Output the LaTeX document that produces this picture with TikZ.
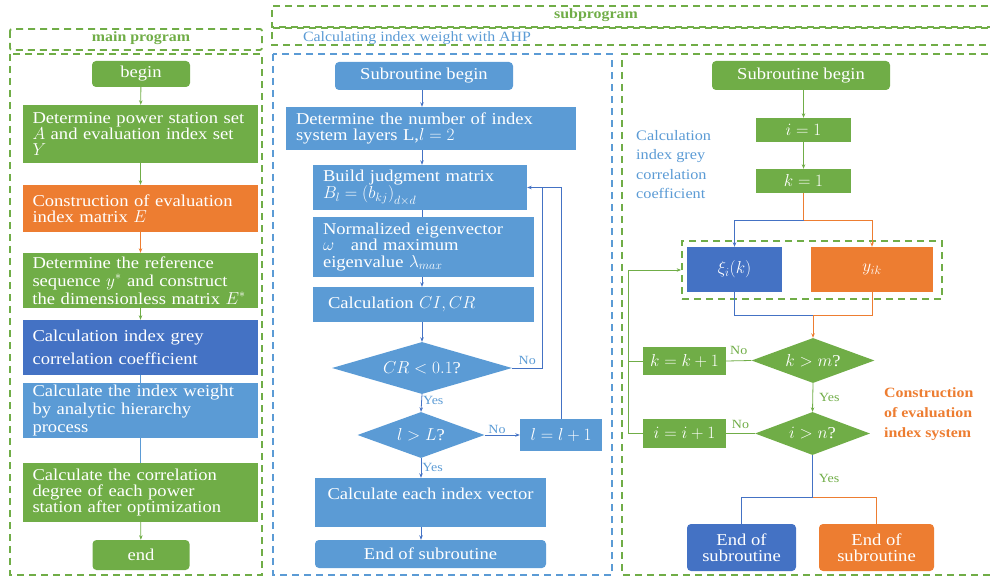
\documentclass[tikz,border=0pt]{standalone}
\usepackage{fontspec}
\setmainfont{Liberation Serif}[FakeStretch=1.12]
\usetikzlibrary{shapes.geometric,arrows.meta}
\definecolor{cg}{HTML}{70AD47}
\definecolor{co}{HTML}{ED7D31}
\definecolor{cb}{HTML}{4472C4}
\definecolor{cl}{HTML}{5B9BD5}
\newcommand\boxfnt{\fontsize{16.6}{16.2}\selectfont}
\newcommand\lblfnt{\fontsize{12.5}{14}\selectfont}
\tikzset{
  box/.style={rectangle, draw=none, text=white, font=\boxfnt, inner sep=0pt},
  tbox/.style={box, align=left, text width=#1},
  rbox/.style={box, rounded corners=4pt},
  dia/.style={diamond, draw=none, text=white, font=\boxfnt, inner sep=0pt, aspect=#1},
  gdash/.style={draw=cg, line width=1.8pt, dash pattern=on 7pt off 5pt},
  bdash/.style={draw=cl, line width=1.8pt, dash pattern=on 7pt off 5pt},
  ln/.style={line width=0.8pt},
  ar/.style={line width=0.8pt, -{Stealth[length=4.5pt,width=3.5pt]}},
  lbl/.style={font=\lblfnt, inner sep=1pt},
  ttl/.style={font=\fontsize{14.2}{16}\selectfont\bfseries, text=cg},
}
\begin{document}
\begin{tikzpicture}[x=1pt,y=-1pt]
\useasboundingbox (0,0) rectangle (990,577);
% ---------- frames ----------
\draw[gdash] (1000,6) -- (272,6) -- (272,27) -- (1000,27);
\node[ttl] (tsub) at (596,15) {subprogram};
\draw[gdash] (1000,28) -- (272,28) -- (272,45) -- (1000,45);
\node[font=\fontsize{14.2}{16}\selectfont, text=cl] (tahp) at (417,38) {Calculating index weight with AHP};
\draw[gdash, rounded corners=2pt] (10,29) rectangle (262,50);
\node[ttl] (tmain) at (141,38) {main program};
\draw[gdash] (10,54) rectangle (262,575);
\draw[bdash] (273,54) rectangle (612,575);
\draw[gdash] (1000,54) -- (622,54) -- (622,575) -- (1000,575);

% ---------- main program ----------
\node[rbox, fill=cg, minimum width=98, minimum height=26] (mb) at (141,74) {begin};
\node[tbox=216, fill=cg, minimum width=235, minimum height=58] (m1) at (140.5,134)
  {Determine power station set\\ $A$ and evaluation index set\\ $Y$};
\node[tbox=216, fill=co, minimum width=235, minimum height=47] (m2) at (140.5,208.5)
  {Construction of evaluation\\ index matrix $E$};
\node[tbox=216, fill=cg, minimum width=235, minimum height=55, font=\fontsize{16.6}{17.8}\selectfont] (m3) at (140.5,280.5)
  {Determine the reference\\ sequence $y^{*}$ and construct\\ the dimensionless matrix $E^{*}$};
\node[tbox=216, fill=cb, minimum width=235, minimum height=55, font=\fontsize{16.6}{23}\selectfont] (m4) at (140.5,347.5)
  {Calculation index grey\\ correlation coefficient};
\node[tbox=216, fill=cl, minimum width=235, minimum height=55, font=\fontsize{16.6}{18}\selectfont] (m5) at (140.5,410.5)
  {Calculate the index weight\\ by analytic hierarchy\\ process};
\node[tbox=216, fill=cg, minimum width=235, minimum height=59] (m6) at (140.5,492.5)
  {Calculate the correlation\\ degree of each power\\ station after optimization};
\node[rbox, fill=cg, minimum width=97, minimum height=30] (me) at (141,555) {end};
\draw[ar, cg] (mb) -- (m1);
\draw[ar, cg] (m1) -- (m2);
\draw[ar, co] (m2) -- (m3);
\draw[ar, cg] (m3) -- (m4);
\draw[ln, cl] (m4) -- (m5);
\draw[ln, cl] (m5) -- (m6);
\draw[ar, cg] (m6) -- (me);

% ---------- AHP ----------
\node[rbox, fill=cl, minimum width=178, minimum height=28] (ab) at (424,76) {Subroutine begin};
\node[tbox=270, fill=cl, minimum width=290, minimum height=43] (aA) at (431,128.5)
  {Determine the number of index\\ system layers L,$l=2$};
\node[tbox=194, fill=cl, minimum width=214, minimum height=45, font=\fontsize{16.6}{16.5}\selectfont] (aB) at (420,187.5)
  {Build judgment matrix\\ $B_l=\left(b_{kj}\right)_{d\times d}$};
\node[tbox=201, fill=cl, minimum width=221, minimum height=60] (aC) at (423.5,247)
  {Normalized eigenvector\\ $\omega$\quad and maximum\\ eigenvalue $\lambda_{max}$};
\node[tbox=201, fill=cl, minimum width=221, minimum height=35] (aD) at (423.5,304.5)
  {\hspace*{5pt}Calculation $CI,CR$};
\node[dia=3.46, fill=cl, minimum width=180, minimum height=52] (d1) at (422,368) {$CR<0.1$?};
\node[dia=2.76, fill=cl, minimum width=127, minimum height=46] (d2) at (421,435) {$l>L$?};
\node[box, fill=cl, minimum width=82, minimum height=32] (aL) at (561,435) {$l=l+1$};
\node[box, fill=cl, minimum width=231, minimum height=49, text depth=18pt] (aE) at (430.5,502.5) {Calculate each index vector};
\node[rbox, fill=cl, minimum width=231, minimum height=28] (aF) at (430.5,554) {End of subroutine};
\draw[ar, cb] (ab.south -| d1) -- (aA.north -| d1);
\draw[ar, cb] (aA.south -| d1) -- (aB.north -| d1);
\draw[ln, cb] (aB.south -| d1) -- (aC.north -| d1);
\draw[ar, cb] (aC.south -| d1) -- (aD.north -| d1);
\draw[ar, cb] (aD.south -| d1) -- (d1.north);
\draw[ar, cb] (d1.south) -- node[lbl, right, text=cl, pos=0.35] {Yes} (d2.north);
\draw[ar, cb] (d2.east) -- node[lbl, above, text=cl, pos=0.35] {No} (aL.west);
\draw[ar, cb] (d2.south) -- node[lbl, right, text=cl, pos=0.45] {Yes} (aE.north -| d2);
\draw[ar, cb] (aE.south -| d2) -- (aF.north -| d2);
\draw[ar, cb] (aL.north) |- (aB.east);
\draw[ln, cb] (d1.east) -| node[lbl, above, text=cl, pos=0.25, yshift=2pt] {No} ([xshift=15pt]aB.east);

% ---------- grey correlation ----------
\node[rbox, fill=cg, minimum width=178, minimum height=29] (rb) at (801,75.5) {Subroutine begin};
\node[box, fill=cg, minimum width=95, minimum height=24] (ri) at (803.5,130) {$i=1$};
\node[box, fill=cg, minimum width=95, minimum height=24] (rk) at (803.5,181) {$k=1$};
\node[gdash, rectangle, minimum width=260, minimum height=58, inner sep=0pt] (rf) at (812,270) {};
\node[box, fill=cb, minimum width=95, minimum height=45] (rx) at (734.5,269.5) {$\xi_i(k)$};
\node[box, fill=co, minimum width=122, minimum height=45] (ry) at (872,269.5) {$y_{ik}$};
\node[dia=2.73, fill=cg, minimum width=123, minimum height=45] (dkm) at (813,360.5) {$k>m$?};
\node[box, fill=cg, minimum width=83, minimum height=28] (rkk) at (684.5,361) {$k=k+1$};
\node[dia=2.67, fill=cg, minimum width=115, minimum height=43] (din) at (812.5,433.5) {$i>n$?};
\node[box, fill=cg, minimum width=83, minimum height=29] (rii) at (684.5,433.5) {$i=i+1$};
\node[rbox, fill=cb, minimum width=109, minimum height=47, align=center, font=\fontsize{16.6}{16.5}\selectfont] (reb) at (741.5,547.5) {End of\\subroutine};
\node[rbox, fill=co, minimum width=115, minimum height=47, align=center, font=\fontsize{16.6}{16.5}\selectfont] (reo) at (876.5,547.5) {End of\\subroutine};
\node[font=\fontsize{14.5}{19.5}\selectfont, text=cl, align=left, anchor=north west, inner sep=0pt] (lgc) at (636,130)
  {Calculation\\index grey\\correlation\\coefficient};
\node[font=\fontsize{14.2}{20}\selectfont\bfseries, text=co, align=left, anchor=north west, inner sep=0pt] (lce) at (884,387)
  {Construction\\of evaluation\\index system};

\coordinate (sp) at (803.5,220);
\coordinate (mg) at (813,315);
\coordinate (lx) at (628,270);
\coordinate (bs) at (812.5,497);
\draw[ar, cg] (rb.south -| ri) -- (ri.north);
\draw[ar, cg] (ri) -- (rk);
\draw[ln, co] (rk.south) -- (sp);
\draw[ar, cb] (sp) -| (rx.north);
\draw[ar, co] (sp) -| (ry.north);
\draw[ln, cb] (rx.south) |- (mg);
\draw[ln, co] (ry.south) |- (mg);
\draw[ar, co] (mg) -- (dkm.north);
\draw[ln, cg] (dkm.west) -- node[lbl, above, text=cg, yshift=5pt] {No} (rkk.east);
\draw[ar, cg] (rkk.west) -| (lx) -- (rf.west);
\draw[ln, cg] (rii.west) -| (lx);
\draw[ar, cg] (dkm.south) -- node[lbl, right, text=cg, xshift=5pt] {Yes} (din.north);
\draw[ln, cg] (din.west) -- node[lbl, above, text=cg, yshift=3pt] {No} (rii.east);
\draw[ln, cb] (din.south) -- node[lbl, right, text=cg, xshift=5pt, pos=0.55] {Yes} (bs);
\draw[ln, cb] (bs) -| (reb.north);
\draw[ln, co] (bs) -| (reo.north);
\end{tikzpicture}
\end{document}
